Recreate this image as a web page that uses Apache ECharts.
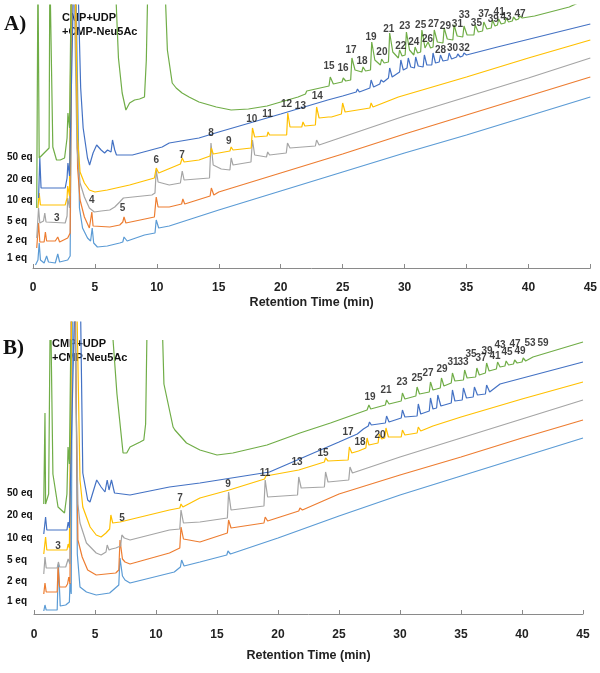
<!DOCTYPE html>
<html>
<head>
<meta charset="utf-8">
<script src="https://cdn.jsdelivr.net/npm/echarts@6/dist/echarts.min.js"></script>
<style>
html,body{margin:0;padding:0;background:#fff;}
#chart{width:600px;height:673px;}
</style>
</head>
<body>
<div id="chart"></div>
<script>
// ---- Data: [retention time (min), signal (a.u., offset traces)] ----
// Panel A
const a1eq = [[0.2,3],[0.4,8],[0.5,25],[0.6,8],[0.9,5],[1.1,12],[1.25,6],[1.8,5],[2.0,14],[2.15,6],[2.8,8],[3.0,12],[3.15,300],[3.45,300],[3.75,60],[4.0,40],[4.4,30],[4.65,27],[4.78,40],[4.9,25],[5.2,21],[6.0,22],[7.0,25],[7.25,26],[7.35,31],[7.6,27],[9.0,33],[9.85,35],[9.95,48],[10.15,40],[11,42],[15,58],[20,77],[25,96],[30,115],[35,133],[40,152],[45,171]];
const a2eq = [[0.3,20],[0.45,45],[0.55,26],[0.9,26],[1.0,36],[1.1,27],[1.8,27],[2.0,31],[2.15,26],[2.8,30],[3.0,35],[3.15,300],[3.4,300],[3.6,100],[3.8,68],[4.15,51],[4.55,40],[4.7,42],[4.75,56],[4.85,42],[5.0,40],[6.2,41],[7.0,43],[7.25,46],[7.35,51],[7.5,45],[9.8,51],[9.95,71],[10.1,61],[11.0,61],[12.0,64],[12.1,69],[12.25,64],[14.3,72],[14.4,80],[14.6,73],[15,76],[20,95],[25,114],[30,134],[35,153],[40,172],[45,191]];
const a5eq = [[0.3,30],[0.45,60],[0.55,45],[0.85,47],[0.95,55],[1.05,46],[2.6,45],[2.75,52],[2.8,70],[2.95,60],[3.1,300],[3.3,300],[3.55,120],[3.8,85],[4.15,71],[4.55,60],[4.95,56],[5.5,57],[6.2,58],[6.6,61],[7.0,66],[7.3,70],[9.6,73],[9.85,75],[9.95,98],[10.1,86],[11.0,83],[11.9,85],[12.05,97],[12.2,88],[14.25,90],[14.37,125],[14.55,103],[15.2,99],[15.9,98],[16.0,110],[16.15,103],[17.6,106],[17.72,128],[17.9,113],[18.85,111],[18.95,116],[19.1,113],[20.45,115],[20.55,125],[20.75,120],[22.8,122],[22.9,128],[23.1,123],[25,131],[30,152],[35,171],[40,190],[45,210]];
const a10eq = [[0.4,60],[0.5,75],[0.6,63],[2.6,63],[2.75,70],[2.8,82],[2.95,72],[3.1,300],[3.4,300],[3.6,130],[3.8,96],[4.15,85],[4.55,78],[5.0,76],[6.0,78],[7.8,83],[9.8,90],[9.95,100],[10.15,95],[11.9,104],[12.05,110],[12.2,106],[13.4,108],[14.3,112],[14.4,120],[14.55,114],[15.9,117],[16.0,121],[16.15,118],[17.62,120],[17.72,140],[17.9,131],[18.9,132],[18.98,136],[19.1,133],[20.48,133],[20.57,155],[20.75,141],[21.7,141],[21.8,146],[21.95,142],[22.8,143],[22.9,161],[23.1,150],[23.85,151],[23.95,153],[24.1,151],[24.9,154],[25.0,165],[25.2,156],[27.2,160],[27.3,165],[27.45,161],[29.5,171],[35,191],[40,210],[45,228]];
const a20eq = [[0.45,70],[0.55,110],[0.65,80],[2.6,80],[2.75,90],[2.82,105],[2.95,92],[3.3,300],[3.6,300],[3.85,180],[4.05,140],[4.4,110],[4.57,103],[4.85,115],[5.14,123],[5.5,118],[5.78,115],[6.02,118],[6.3,116],[6.42,128],[6.6,118],[6.74,113],[8.03,113],[10.43,121],[11.0,125],[13.4,130],[15,136],[20,154],[23.8,168],[25.0,172],[26.1,176],[26.2,179],[26.35,176],[27.2,180],[27.3,188],[27.5,181],[28.0,184],[28.1,188],[28.3,186],[28.7,190],[28.8,200],[29.0,191],[29.6,196],[29.7,208],[29.9,198],[30.2,200],[30.3,210],[30.5,201],[30.8,200],[30.9,211],[31.1,202],[31.5,201],[31.6,213],[31.8,203],[32.2,203],[32.3,215],[32.5,205],[32.8,206],[32.9,213],[33.1,207],[33.5,208],[33.6,215],[33.8,209],[34.2,211],[34.3,214],[34.5,211],[34.7,212],[34.8,215],[35.0,213],[37.5,221],[45,244]];
const a50eq = [[0.3,60],[0.4,300],[0.5,110],[0.9,115],[1.3,120],[1.36,300],[1.45,300],[1.6,121],[1.9,108],[2.2,108],[2.55,110],[2.75,130],[2.82,155],[2.95,140],[3.1,300],[6.6,300],[6.9,210],[7.2,175],[7.5,158],[7.8,165],[8.2,168],[8.6,169],[9.0,171],[9.15,208],[9.3,300],[10.6,300],[10.85,218],[11.24,185],[11.56,180],[12.04,175],[12.6,171],[13.4,166],[14.8,161],[16.0,158],[17.4,159],[18.9,162],[20.0,166],[21.4,171],[22.0,174],[22.1,177],[22.25,175],[23.9,182],[24.0,191],[24.25,184],[24.95,186],[25.05,190],[25.25,187],[25.65,188],[25.75,210],[26.0,198],[26.55,196],[26.65,201],[26.85,197],[27.25,198],[27.35,226],[27.6,208],[28.05,203],[28.15,209],[28.35,205],[28.7,206],[28.8,235],[29.05,216],[29.5,210],[29.6,218],[29.8,212],[30.05,213],[30.15,236],[30.4,218],[30.75,213],[30.85,221],[31.05,215],[31.3,216],[31.4,238],[31.65,220],[31.8,219],[31.9,226],[32.1,220],[32.3,221],[32.4,238],[32.65,226],[33.1,225],[33.2,240],[33.45,229],[33.9,228],[34.0,243],[34.25,232],[34.7,231],[34.8,242],[35.05,233],[35.6,233],[35.7,243],[35.95,236],[36.3,237],[36.4,246],[36.65,239],[37.0,240],[37.1,248],[37.3,242],[37.5,243],[37.6,249],[37.8,244],[38.1,245],[38.2,250],[38.4,246],[38.7,247],[38.8,251],[39.0,248],[39.2,249],[39.3,252],[39.5,250],[40.5,252],[43.3,261],[44,265]];
// Panel B ('-' = trace leaves the recorded range)
const b1eq = [[0.8,3],[0.9,9],[1.0,4],[1.9,4],[2.0,50],[2.15,8],[2.6,9],[2.9,12],[2.95,31],[3.05,20],[3.15,320],[3.4,320],[3.55,60],[3.77,27],[4.3,22],[5.1,19],[6.2,21],[6.95,29],[7.05,56],[7.25,38],[7.46,34],[7.87,31],[11.5,42],[12.0,47],[12.1,54],[12.3,48],[13.6,52],[15.8,59],[15.9,63],[16.1,60],[20,76],[25,98],[30,119],[35,138],[40,157],[45,176]];
const b2eq = [[0.8,20],[0.9,31],[1.0,22],[1.9,22],[1.97,47],[2.1,27],[2.6,27],[2.75,30],[2.85,37],[2.95,30],[3.05,320],[3.35,320],[3.6,74],[3.95,57],[4.4,44],[5.1,39],[6.7,41],[6.95,44],[7.05,74],[7.25,55],[7.46,52],[7.87,50],[11.1,61],[11.95,66],[12.05,87],[12.25,75],[13.6,72],[15.85,81],[15.95,94],[16.15,86],[18.85,91],[18.95,97],[19.15,93],[21.7,103],[21.8,106],[22.0,104],[25,120],[30,139],[35,157],[40,176],[45,194]];
const b5eq = [[0.8,40],[0.9,57],[1.0,46],[1.9,46],[2.0,52],[2.1,47],[2.6,47],[2.8,55],[2.95,50],[3.05,320],[3.3,320],[3.6,110],[3.77,91],[4.3,71],[5.1,61],[5.5,59],[5.9,62],[6.0,69],[6.15,64],[6.35,65],[6.45,67],[6.7,66],[7.1,68],[7.2,79],[7.4,76],[7.87,74],[11.1,84],[11.95,85],[12.05,104],[12.25,91],[13.6,92],[15.85,96],[15.95,122],[16.15,104],[18.85,108],[18.95,134],[19.15,117],[21.6,119],[21.7,137],[21.9,126],[23.8,127],[23.9,142],[24.1,132],[25.8,134],[25.9,147],[26.1,141],[30,157],[35,176],[40,195],[45,214]];
const b10eq = [[0.8,60],[0.95,77],[1.05,64],[2.7,64],[2.8,70],[2.9,66],[3.1,320],[3.5,320],[3.77,134],[4.0,107],[4.6,87],[5.1,79],[5.5,77],[5.9,81],[6.2,85],[6.3,99],[6.45,91],[7.05,92],[11.1,104],[11.95,106],[12.05,110],[12.2,107],[13.6,116],[16,124],[18.9,135],[19.0,138],[19.15,136],[21.7,144],[23.8,152],[23.9,156],[24.1,153],[25.75,154],[25.85,167],[26.05,161],[26.6,163],[27.2,166],[27.3,176],[27.45,169],[28.2,171],[28.3,180],[28.5,175],[28.75,176],[28.85,186],[29.05,177],[30.1,177],[30.2,184],[30.4,179],[31.4,181],[31.5,187],[31.7,183],[32.7,188],[35,197],[40,215],[45,232]];
const b20eq = [[0.8,80],[0.95,97],[1.05,84],[2.7,84],[2.8,92],[2.9,86],[3.35,320],[3.8,320],[4.0,141],[4.4,114],[4.59,112],[5.14,134],[5.5,127],[5.82,122],[6.0,134],[6.15,124],[6.35,134],[6.6,121],[7.87,119],[11.1,127],[13.6,131],[19.3,142],[25,172],[26.5,180],[27.0,185],[27.4,188],[27.5,192],[27.65,189],[28.8,191],[28.9,198],[29.1,192],[30.1,196],[30.2,204],[30.4,197],[31.4,198],[31.5,210],[31.7,200],[32.4,203],[32.5,216],[32.7,205],[33.0,206],[33.1,219],[33.35,208],[34.2,211],[34.3,224],[34.5,213],[35.1,214],[35.2,226],[35.45,216],[36.0,217],[36.1,227],[36.35,219],[37.0,220],[37.1,229],[37.35,222],[38.2,230],[45,252]];
const b50eq = [[0.8,110],[0.9,201],[0.95,110],[1.2,120],[1.31,274],[1.35,'-'],[1.4,274],[1.55,140],[1.97,107],[2.5,101],[2.7,120],[2.79,167],[2.9,150],[3.02,274],[4.5,'-'],[6.48,274],[6.8,220],[7.3,161],[7.6,161],[7.87,167],[8.7,172],[9.0,174],[9.15,190],[9.25,274],[9.9,'-'],[10.55,274],[10.65,230],[11.4,187],[11.55,184],[12.5,171],[13.6,164],[15,159],[16.3,161],[19.1,169],[21.8,181],[24.3,191],[27.3,204],[27.45,209],[27.6,205],[28.8,209],[28.9,214],[29.1,210],[30.1,213],[30.2,221],[30.4,215],[31.3,218],[31.4,227],[31.6,220],[32.4,222],[32.5,232],[32.7,224],[33.3,226],[33.4,236],[33.6,228],[34.2,231],[34.3,241],[34.5,233],[35.2,234],[35.3,244],[35.5,236],[36.2,237],[36.3,246],[36.5,239],[37.0,241],[37.1,251],[37.3,243],[37.9,245],[38.0,252],[38.2,247],[38.6,248],[38.7,253],[38.9,249],[39.3,250],[39.4,254],[39.6,251],[40.0,252],[40.1,256],[40.3,253],[40.9,257],[45,272]];

// Peak labels: [text, time, signal]
const peakLabelsA = [['3',1.93,50],['4',4.74,68],['5',7.22,60],['6',9.95,108],['7',12.04,113],['8',14.37,135],['9',15.81,127],['10',17.66,149],['11',18.94,154],['12',20.47,164],['13',21.59,162],['14',22.95,172],['15',23.9,202],['16',25.04,200],['17',25.68,218],['18',26.57,207],['19',27.29,231],['20',28.17,216],['21',28.73,239],['22',29.7,222],['23',30.02,242],['24',30.74,226],['25',31.3,243],['26',31.86,229],['27',32.34,244],['28',32.9,218],['29',33.3,242],['30',33.87,220],['31',34.27,244],['32',34.83,220],['33',34.83,253],['35',35.8,245],['37',36.4,254],['39',37.16,249],['41',37.64,256],['43',38.2,251],['47',39.33,254]];
const peakLabelsB = [['3',1.97,68],['5',7.21,96],['7',11.97,116],['9',15.9,130],['11',18.93,141],['13',21.56,152],['15',23.69,161],['17',25.74,182],['18',26.72,172],['19',27.54,217],['20',28.36,179],['21',28.85,224],['23',30.16,232],['25',31.39,236],['27',32.3,241],['29',33.44,245],['31',34.34,252],['33',35.16,252],['35',35.82,260],['37',36.64,256],['39',37.13,263],['41',37.79,258],['43',38.2,269],['45',38.77,262],['47',39.43,270],['49',39.84,263],['53',40.66,271],['59',41.72,271]];

const eqNames = ['1 eq','2 eq','5 eq','10 eq','20 eq','50 eq'];
const traceColors = ['#5B9BD5','#ED7D31','#A5A5A5','#FFC000','#4472C4','#70AD47'];
const xTicks = [0,5,10,15,20,25,30,35,40,45];
const xTitle = 'Retention Time (min)';
const sampleText = ['CMP+UDP','+CMP-Neu5Ac'];

const tracesA = [a1eq,a2eq,a5eq,a10eq,a20eq,a50eq];
const tracesB = [b1eq,b2eq,b5eq,b10eq,b20eq,b50eq];

const FONT = '"Liberation Sans", Arial, sans-serif';
const chart = echarts.init(document.getElementById('chart'), null, {renderer:'canvas'});

function xAxisCfg(gridIndex, labelMargin, nameGap){
  return {
    type:'value', gridIndex, min:xTicks[0], max:xTicks[xTicks.length-1], interval:5,
    axisLine:{show:true, lineStyle:{color:'#8a8a8a', width:1}},
    axisTick:{show:true, inside:true, length:4, lineStyle:{color:'#8a8a8a'}},
    axisLabel:{fontFamily:FONT, fontWeight:'bold', fontSize:12, color:'#222', margin:labelMargin},
    splitLine:{show:false},
    name:xTitle, nameLocation:'middle', nameGap:nameGap,
    nameTextStyle:{fontFamily:FONT, fontWeight:'bold', fontSize:12.5, color:'#222'}
  };
}
function yAxisCfg(gridIndex, max){
  return {type:'value', gridIndex, min:0, max:max, show:false, splitLine:{show:false}};
}

const series = [];
[tracesA, tracesB].forEach((set, gi) => {
  set.forEach((d, i) => {
    series.push({
      type:'line', name:eqNames[i]+(gi?' B':' A'), xAxisIndex:gi, yAxisIndex:gi,
      data:d, showSymbol:false, symbol:'none', clip:true, connectNulls:false,
      lineStyle:{color:traceColors[i], width:1.2}, z:2+i, silent:true
    });
  });
});
[peakLabelsA, peakLabelsB].forEach((lbls, gi) => {
  series.push({
    type:'scatter', xAxisIndex:gi, yAxisIndex:gi, symbolSize:0, silent:true, z:20,
    data:lbls.map(l => ({name:l[0], value:[l[1], l[2]]})),
    label:{show:true, position:'inside', formatter:'{b}', fontFamily:FONT, fontWeight:'bold', fontSize:10, color:'#111'}
  });
});

const eqYA = [258,240,221,200,179,157];
const eqYB = [601,581,560,538,515,493];
const graphics = [];
function txt(text, x, y, font, align){
  graphics.push({type:'text', style:{text, x, y, font, fill:'#111', align:align||'left', verticalAlign:'middle'}, silent:true});
}
eqNames.forEach((n,i) => { txt(n, 7, eqYA[i], 'bold 10px '+FONT); txt(n, 7, eqYB[i], 'bold 10px '+FONT); });
txt('A)', 4, 25, 'bold 21px "Liberation Serif", "Times New Roman", serif');
txt('B)', 3, 349, 'bold 21px "Liberation Serif", "Times New Roman", serif');
txt(sampleText[0], 62, 18, 'bold 11px '+FONT);
txt(sampleText[1], 62, 32, 'bold 11px '+FONT);
txt(sampleText[0], 52, 344, 'bold 11px '+FONT);
txt(sampleText[1], 52, 358, 'bold 11px '+FONT);

chart.setOption({
  animation:false,
  backgroundColor:'#fff',
  grid:[
    {left:33, right:7, top:5, height:263},
    {left:34, right:17, top:322, height:292}
  ],
  xAxis:[xAxisCfg(0, 14, 28), xAxisCfg(1, 15, 35)],
  yAxis:[yAxisCfg(0, 263), yAxisCfg(1, 292)],
  series:series,
  graphic:graphics
});
</script>
</body>
</html>
